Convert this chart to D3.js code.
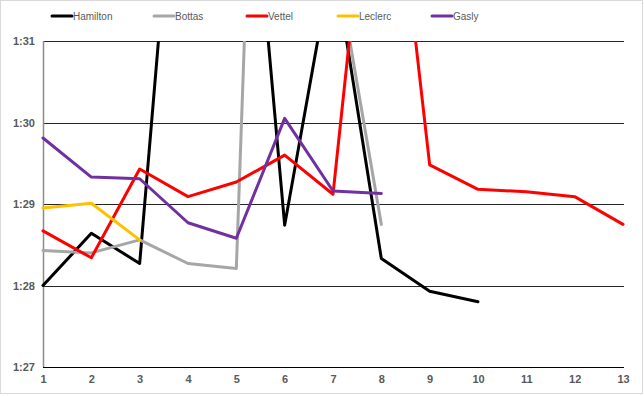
<!DOCTYPE html>
<html><head><meta charset="utf-8">
<script src="https://cdn.jsdelivr.net/npm/d3@7"></script>
<style>
html,body{margin:0;padding:0;background:#fff;}
svg{display:block;}
</style></head>
<body>
<script>
const laps = [1,2,3,4,5,6,7,8,9,10,11,12,13];
const seriesNames = ["Hamilton","Bottas","Vettel","Leclerc","Gasly"];
const seriesColors = ["#000000","#a6a6a6","#ff0000","#ffc000","#7030a0"];
// lap times in seconds (values above 91 are off the top of the chart)
const hamilton = [88.00, 88.64, 88.27, 95.3, 95.4, 88.74, 92.05, 88.33, 87.93, 87.80, null, null, null];
const bottas   = [88.43, 88.40, 88.56, 88.27, 88.21, 105.0, 92.2, 88.75, null, null, null, null, null];
const vettel   = [88.67, 88.34, 89.43, 89.09, 89.27, 89.60, 89.12, 94.7, 89.48, 89.18, 89.15, 89.09, 88.75];
const leclerc  = [88.95, 89.01, 88.56, null, null, null, null, null, null, null, null, null, null];
const gasly    = [89.81, 89.33, 89.31, 88.77, 88.58, 90.05, 89.16, 89.13, null, null, null, null, null];
const yTicks = [87, 88, 89, 90, 91];
const yTickLabels = ["1:27","1:28","1:29","1:30","1:31"];

const seriesData = [hamilton, bottas, vettel, leclerc, gasly];

(function(){
const W = 644, H = 396;
const svg = d3.select("body").append("svg").attr("width", W).attr("height", H);
svg.append("rect").attr("x",0.5).attr("y",0.5).attr("width",W-2).attr("height",H-3)
  .attr("fill","#fff").attr("stroke","#d9d9d9");

const pL = 43, pR = 623, pT = 41, pB = 367;
const x = d3.scaleLinear().domain([1,13]).range([pL,pR]);
const y = d3.scaleLinear().domain([87,91]).range([pB,pT]);

const font = "'Liberation Sans Narrow', 'Arial Narrow', 'Liberation Sans', Arial, sans-serif";

// gridlines
svg.append("g").selectAll("line").data(yTicks.filter(t=>t>87)).join("line")
  .attr("x1",pL).attr("x2",pR+1)
  .attr("y1",d=>Math.round(y(d))+0.5).attr("y2",d=>Math.round(y(d))+0.5)
  .attr("stroke","#262626").attr("stroke-width",1);

// y axis line
svg.append("line").attr("x1",pL+0.5).attr("x2",pL+0.5).attr("y1",pT).attr("y2",pB)
  .attr("stroke","#8c8c8c").attr("stroke-width",1.5);
// x axis line
svg.append("line").attr("x1",pL).attr("x2",pR+1).attr("y1",pB+0.5).attr("y2",pB+0.5)
  .attr("stroke","#000").attr("stroke-width",1);

// y axis labels
const yAxis = d3.axisLeft(y).tickValues(yTicks).tickFormat((d,i)=>yTickLabels[i]).tickSize(0).tickPadding(8);
const gy = svg.append("g").attr("transform",`translate(${pL},0)`).call(yAxis);
gy.select(".domain").remove();
gy.selectAll("text").attr("font-family",font).attr("font-size","11px").attr("font-weight","bold").attr("fill","#595959");

// x axis labels
const xAxis = d3.axisBottom(x).tickValues(laps).tickFormat(d3.format("d")).tickSize(0).tickPadding(8);
const gx = svg.append("g").attr("transform",`translate(0,${pB})`).call(xAxis);
gx.select(".domain").remove();
gx.selectAll("text").attr("font-family",font).attr("font-size","11px").attr("font-weight","bold").attr("fill","#595959");

// clip
svg.append("clipPath").attr("id","plot").append("rect")
  .attr("x",pL-5).attr("y",pT).attr("width",pR-pL+10).attr("height",pB-pT);

const line = d3.line().defined(d=>d[1]!=null).x(d=>x(d[0])).y(d=>y(d[1]));
const gl = svg.append("g").attr("clip-path","url(#plot)");
seriesData.forEach((s,i)=>{
  gl.append("path").datum(laps.map((l,j)=>[l,s[j]]))
    .attr("d",line).attr("fill","none").attr("stroke",seriesColors[i])
    .attr("stroke-width",3).attr("stroke-linejoin","round").attr("stroke-linecap","round");
});

// legend
const legendX = [52,154,247,338,432];
const lg = svg.append("g");
seriesNames.forEach((n,i)=>{
  lg.append("line").attr("x1",legendX[i]).attr("x2",legendX[i]+20).attr("y1",16).attr("y2",16)
    .attr("stroke",seriesColors[i]).attr("stroke-width",3).attr("stroke-linecap","round");
  lg.append("text").attr("x",legendX[i]+21).attr("y",16).attr("dy","0.35em")
    .attr("font-family",font).attr("font-size","10px").attr("fill","#595959").text(n);
});
})();
</script>
</body></html>
